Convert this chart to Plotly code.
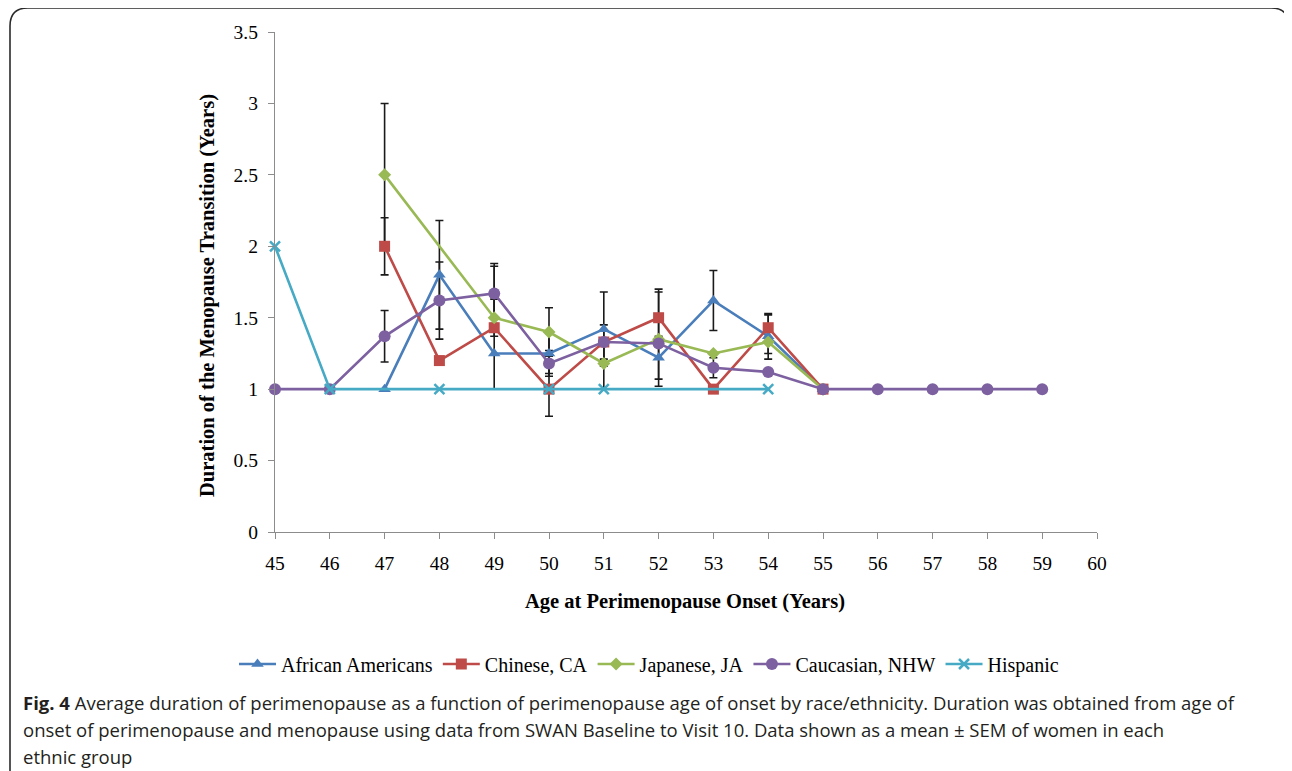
import plotly.graph_objects as go

# ---------------- data ----------------
ages = list(range(45, 60))

african = [None, None, 1.0, 1.80, 1.25, 1.25, 1.42, 1.22, 1.62, 1.37, 1.0, None, None, None, None]
african_sem = [None, None, None, 0.38, None, 0.14, 0.26, 0.15, 0.21, 0.16, None, None, None, None, None]

chinese = [None, None, 2.0, 1.20, 1.43, 1.0, 1.33, 1.50, 1.0, 1.43, 1.0, None, None, None, None]
chinese_sem = [None, None, 0.20, None, 0.43, 0.19, None, 0.20, None, 0.09, None, None, None, None, None]

japanese = [None, None, 2.5, None, 1.5, 1.40, 1.18, 1.35, 1.25, 1.33, 1.0, None, None, None, None]
japanese_sem = [None, None, 0.50, None, 0.13, 0.17, 0.18, 0.33, None, 0.08, None, None, None, None, None]

caucasian = [1.0, 1.0, 1.37, 1.62, 1.67, 1.18, 1.33, 1.32, 1.15, 1.12, 1.0, 1.0, 1.0, 1.0, 1.0]
caucasian_sem = [None, None, 0.18, 0.27, 0.21, 0.09, 0.12, None, 0.07, None, None, None, None, None, None]

hispanic = [2.0, 1.0, None, 1.0, None, 1.0, 1.0, None, None, 1.0, None, None, None, None, None]
hispanic_sem = [None] * 15

series_names = ["African Americans", "Chinese, CA", "Japanese, JA", "Caucasian, NHW", "Hispanic"]
x_ticks = list(range(45, 61))
y_ticks = [0, 0.5, 1, 1.5, 2, 2.5, 3, 3.5]
y_tick_text = ["0", "0.5", "1", "1.5", "2", "2.5", "3", "3.5"]

caption_lines = [
    "<b>Fig. 4</b> Average duration of perimenopause as a function of perimenopause age of onset by race/ethnicity. Duration was obtained from age of",
    "onset of perimenopause and menopause using data from SWAN Baseline to Visit 10. Data shown as a mean ± SEM of women in each",
    "ethnic group",
]

# ---------------- styles ----------------
colors = ["#4A7EBB", "#BE4B48", "#98B954", "#7D60A0", "#46AAC5"]
symbols = ["triangle-up", "square", "diamond", "circle", "x-thin"]
msizes = [11, 11, 10, 12, 10]
serif = "Liberation Serif, Times New Roman, serif"

values = [african, chinese, japanese, caucasian, hispanic]
sems = [african_sem, chinese_sem, japanese_sem, caucasian_sem, hispanic_sem]

fig = go.Figure()

# error bars (drawn beneath the series)
for vals, sem in zip(values, sems):
    keep = [(a, v, s) for a, v, s in zip(ages, vals, sem) if s is not None and v is not None]
    if not keep:
        continue
    fig.add_trace(go.Scatter(
        x=[k[0] for k in keep], y=[k[1] for k in keep], mode="markers",
        marker=dict(size=1, opacity=0),
        error_y=dict(type="data", array=[k[2] for k in keep], visible=True,
                     color="#1a1a1a", thickness=1.6, width=4),
        showlegend=False, hoverinfo="skip", cliponaxis=False,
    ))

for name, vals, c, s, ms in zip(series_names, values, colors, symbols, msizes):
    marker = dict(symbol=s, size=ms, color=c)
    if s == "x-thin":
        marker["line"] = dict(color=c, width=2.5)
    fig.add_trace(go.Scatter(
        x=ages, y=vals, name=name, mode="lines+markers",
        line=dict(color=c, width=2.6), marker=marker,
        connectgaps=True, cliponaxis=False,
    ))

OFF = 8  # page body margin
W, H = 1292 - OFF, 771 - OFF
L, R, T, B = 275, 1097, 32, 532  # plot area in reference pixels
pw, ph = R - L, B - T


def px_x(px):
    return (px - L) / pw


def px_y(py):
    return (B - py) / ph


fig.update_layout(
    width=W, height=H,
    margin=dict(l=L - OFF, r=(1292 - R), t=T - OFF, b=(771 - B), autoexpand=False),
    paper_bgcolor="white", plot_bgcolor="white",
    showlegend=True,
    legend=dict(
        orientation="h", x=px_x(234), y=px_y(664),
        xanchor="left", yanchor="middle",
        font=dict(family=serif, size=20, color="#000000"),
        itemwidth=37, tracegroupgap=0, bgcolor="rgba(0,0,0,0)",
    ),
    xaxis=dict(
        range=[45, 60], tickmode="array", tickvals=x_ticks, ticktext=[str(v) for v in x_ticks],
        showgrid=False, zeroline=False, showline=True, linecolor="#8c8c8c", linewidth=1.3,
        ticks="outside", ticklen=6, tickcolor="#8c8c8c", tickwidth=1.3,
        ticklabelstandoff=7,
        tickfont=dict(family=serif, size=19.5, color="#000000"),
    ),
    yaxis=dict(
        range=[0, 3.5], tickmode="array", tickvals=y_ticks, ticktext=y_tick_text,
        showgrid=False, zeroline=False, showline=True, linecolor="#8c8c8c", linewidth=1.3,
        ticks="outside", ticklen=6, tickcolor="#8c8c8c", tickwidth=1.3,
        ticklabelstandoff=6,
        tickfont=dict(family=serif, size=19.5, color="#000000"),
    ),
)

annotations = [
    dict(text="<b>Duration of the Menopause Transition (Years)</b>", xref="paper", yref="paper",
         x=px_x(207), y=px_y(296), textangle=-90, showarrow=False,
         font=dict(family=serif, size=20.5, color="#000000"), xanchor="center", yanchor="middle"),
    dict(text="<b>Age at Perimenopause Onset (Years)</b>", xref="paper", yref="paper",
         x=px_x(685), y=px_y(601), showarrow=False,
         font=dict(family=serif, size=20.5, color="#000000"), xanchor="center", yanchor="middle"),
]
for i, line in enumerate(caption_lines):
    annotations.append(dict(
        text=line, xref="paper", yref="paper", x=px_x(21), y=px_y(702 + 27 * i),
        showarrow=False, xanchor="left", yanchor="middle", align="left", width=1262,
        font=dict(family="Open Sans, sans-serif", size=18.5, color="#231F20"),
    ))
fig.update_layout(annotations=annotations)

# rounded frame around figure
x0, x1 = px_x(10), px_x(1289)
y0, y1 = px_y(800), px_y(8)
rx, ry = 18 / pw, 18 / ph
path = (f"M {x0},{y0} L {x0},{y1 - ry} Q {x0},{y1} {x0 + rx},{y1} "
        f"L {x1 - rx},{y1} Q {x1},{y1} {x1},{y1 - ry} L {x1},{y0}")
fig.add_shape(type="path", path=path, xref="paper", yref="paper",
              line=dict(color="#2b2b2b", width=1.6))

fig.write_html("out.html")
